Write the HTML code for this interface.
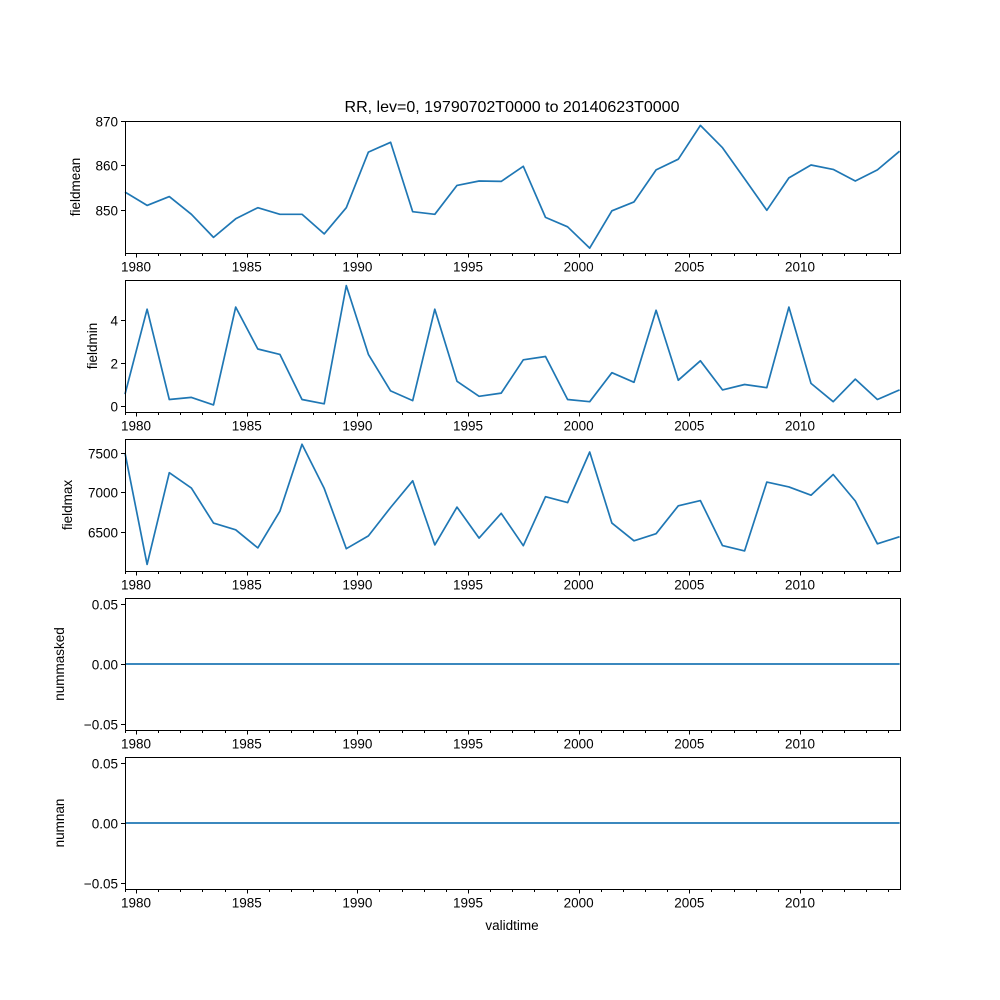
<!DOCTYPE html>
<html><head><meta charset="utf-8"><style>
body{margin:0;background:#fff}
svg{display:block}
text{font-family:"Liberation Sans","DejaVu Sans",sans-serif;fill:#000}
</style></head><body>
<svg id="fig" width="1000" height="1000" viewBox="0 0 1000 1000">
<rect width="1000" height="1000" fill="#fff"/>
<text x="512" y="112" font-size="16" text-anchor="middle">RR, lev=0, 19790702T0000 to 20140623T0000</text>
<text x="512" y="930" font-size="13.5" text-anchor="middle">validtime</text>
</svg>
<script>
const years = [1979,1980,1981,1982,1983,1984,1985,1986,1987,1988,1989,1990,1991,1992,1993,1994,1995,1996,1997,1998,1999,2000,2001,2002,2003,2004,2005,2006,2007,2008,2009,2010,2011,2012,2013,2014];
const fieldmean = [854,851,853,849,843.8,848,850.5,849,849,844.6,850.5,863,865.2,849.6,849,855.5,856.5,856.4,859.8,848.3,846.2,841.4,849.8,851.8,859,861.4,869,864,857,849.9,857.2,860.1,859.1,856.5,859,863.2];
const fieldmin = [0.55,4.5,0.3,0.4,0.05,4.6,2.65,2.4,0.3,0.1,5.6,2.4,0.7,0.25,4.5,1.15,0.45,0.6,2.15,2.3,0.3,0.2,1.55,1.1,4.45,1.2,2.1,0.75,1.0,0.85,4.6,1.05,0.2,1.25,0.3,0.75];
const fieldmax = [7500,6090,7250,7055,6612,6528,6298,6763,7610,7052,6288,6450,6810,7148,6337,6815,6423,6737,6326,6946,6872,7513,6612,6388,6478,6831,6897,6328,6260,7132,7070,6965,7228,6892,6350,6440];
const nummasked = years.map(()=>0);
const numnan = years.map(()=>0);
const xTickYears = [1980,1985,1990,1995,2000,2005,2010];

const panels = [
 {name:'fieldmean', data:fieldmean, top:121, ymin:840.3, ymax:870, ticks:[850,860,870], fmt:v=>String(v), lblX:80},
 {name:'fieldmin', data:fieldmin, top:280, ymin:-0.28, ymax:5.86, ticks:[0,2,4], fmt:v=>String(v), lblX:97},
 {name:'fieldmax', data:fieldmax, top:439, ymin:6006, ymax:7677, ticks:[6500,7000,7500], fmt:v=>String(v), lblX:72},
 {name:'nummasked', data:nummasked, top:598, ymin:-0.055, ymax:0.055, ticks:[-0.05,0,0.05], fmt:v=>(v<0?'\u2212':'')+Math.abs(v).toFixed(2), lblX:64},
 {name:'numnan', data:numnan, top:757, ymin:-0.055, ymax:0.055, ticks:[-0.05,0,0.05], fmt:v=>(v<0?'\u2212':'')+Math.abs(v).toFixed(2), lblX:64}
];
const L=125,R=900,H=132,X0=1979.5,X1=2014.52;
const xs=t=>L+(t-X0)/(X1-X0)*(R-L);
const NS='http://www.w3.org/2000/svg';
const svg=document.getElementById('fig');
function mk(tag,attrs,parent){const e=document.createElementNS(NS,tag);for(const k in attrs)e.setAttribute(k,attrs[k]);(parent||svg).appendChild(e);return e;}
panels.forEach(p=>{
 const g=mk('g',{});
 
 
 const ys=v=>p.top+H-(v-p.ymin)/(p.ymax-p.ymin)*H;
 const pts=p.data.map((v,i)=>xs(years[i]+0.5).toFixed(1)+','+ys(v).toFixed(1)).join(' ');
 const line=mk('polyline',{points:pts,fill:'none',stroke:'#1f77b4','stroke-width':1.7,'stroke-linejoin':'round'},g);
 
 
 const fr=mk('rect',{x:L+0.5,y:p.top+0.5,width:R-L,height:H,fill:'none',stroke:'#000','stroke-width':1},g);
 
 
 const b=p.top+H+0.5;
 for(let y=1980;y<=2014;y++){
  const x=Math.round(xs(y))+0.5; const maj=xTickYears.includes(y);
  mk('line',{x1:x,x2:x,y1:b,y2:b+(maj?4:2.5),stroke:'#000','stroke-width':1},g);
 }
 mk('line',{x1:L+0.5,x2:L+0.5,y1:b,y2:b+2.5,stroke:'#000','stroke-width':1},g);
 xTickYears.forEach(y=>{
  const t=mk('text',{x:xs(y),y:b+18,'font-size':13.5,'text-anchor':'middle'},g);
  t.textContent=y;
  
  
 });
 p.ticks.forEach(v=>{
  const y=Math.round(ys(v))+0.5;
  mk('line',{x1:L-4,x2:L,y1:y,y2:y,stroke:'#000','stroke-width':1},g);
  const t=mk('text',{x:L-7,y:y+5,'font-size':13.5,'text-anchor':'end'},g);
  t.textContent=p.fmt(v);
  
  
 });
 const cy=p.top+H/2;
 const yl=mk('text',{x:p.lblX,y:cy,'font-size':13.5,'text-anchor':'middle',transform:`rotate(-90 ${p.lblX} ${cy})`},g);
 yl.textContent=p.name;
 
 
});
</script>
</body></html>
